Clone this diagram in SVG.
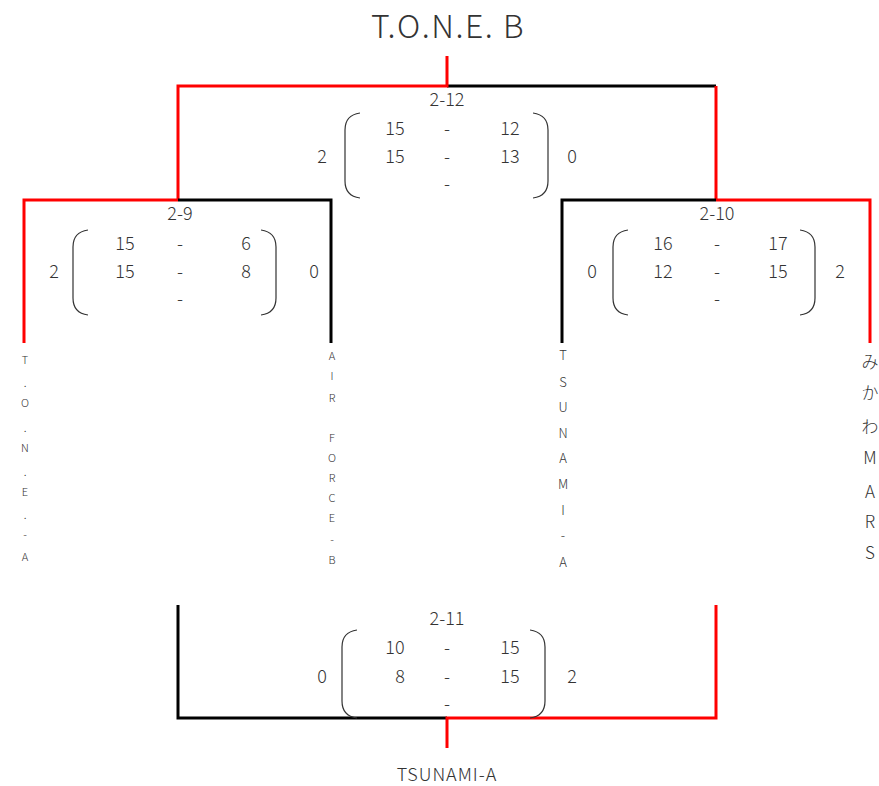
<svg xmlns="http://www.w3.org/2000/svg" width="879" height="786" viewBox="0 0 879 786">
<style>
text{font-family:"Noto Sans CJK JP","Noto Sans",sans-serif;font-weight:300;fill:#333;text-anchor:middle}
.t{font-size:32px;letter-spacing:1.5px}
.s{font-size:18px}
.w{letter-spacing:1px}
.v{font-size:11px}
.v2{font-size:13px}
.v3{font-size:17px}
.r{stroke:#ff0000;stroke-width:3;fill:none}
.k{stroke:#000;stroke-width:3;fill:none}
.p{stroke:#333;stroke-width:1.2;fill:none}
</style>
<rect width="879" height="786" fill="#fff"/>
<g id="connectors">
<path class="k" d="M447 86 H716"/>
<path class="r" d="M447 56 V86 H178 V200"/>
<path class="r" d="M716 86 V200"/>
<path class="k" d="M178 200 H331 V343"/>
<path class="r" d="M178 200 H24 V343"/>
<path class="k" d="M716 200 H562 V343"/>
<path class="r" d="M716 200 H870 V343"/>
<path class="k" d="M178 605 V718 H447"/>
<path class="r" d="M716 605 V718 H447 V748"/>
</g>
<g id="title"><text class="t" x="448" y="38">T.O.N.E. B</text></g>
<g id="match-2-12">
<text class="s" x="447" y="106">2-12</text>
<path class="p" d="M360 113 Q345 115 345 130 V181 Q345 196 360 198"/>
<path class="p" d="M533 113 Q548 115 548 130 V181 Q548 196 533 198"/>
<text class="s" x="395" y="135">15</text><text class="s" x="447" y="135">-</text><text class="s" x="510" y="135">12</text>
<text class="s" x="395" y="163">15</text><text class="s" x="447" y="163">-</text><text class="s" x="510" y="163">13</text>
<text class="s" x="447" y="190">-</text>
<text class="s" x="322" y="163">2</text><text class="s" x="572" y="163">0</text>
</g>
<g id="match-2-9">
<text class="s" x="180" y="220">2-9</text>
<path class="p" d="M88 230 Q73 232 73 247 V298 Q73 313 88 315"/>
<path class="p" d="M261 230 Q276 232 276 247 V298 Q276 313 261 315"/>
<text class="s" x="125" y="250">15</text><text class="s" x="180" y="250">-</text><text class="s" x="246" y="250">6</text>
<text class="s" x="125" y="278">15</text><text class="s" x="180" y="278">-</text><text class="s" x="246" y="278">8</text>
<text class="s" x="180" y="305">-</text>
<text class="s" x="54" y="278">2</text><text class="s" x="314" y="278">0</text>
</g>
<g id="match-2-10">
<text class="s" x="717" y="220">2-10</text>
<path class="p" d="M628 230 Q613 232 613 247 V298 Q613 313 628 315"/>
<path class="p" d="M800 230 Q815 232 815 247 V298 Q815 313 800 315"/>
<text class="s" x="663" y="250">16</text><text class="s" x="717" y="250">-</text><text class="s" x="778" y="250">17</text>
<text class="s" x="663" y="278">12</text><text class="s" x="717" y="278">-</text><text class="s" x="778" y="278">15</text>
<text class="s" x="717" y="305">-</text>
<text class="s" x="592" y="278">0</text><text class="s" x="840" y="278">2</text>
</g>
<g id="match-2-11">
<text class="s" x="447" y="625">2-11</text>
<path class="p" d="M357 630 Q342 632 342 647 V701 Q342 716 357 718"/>
<path class="p" d="M530 630 Q545 632 545 647 V701 Q545 716 530 718"/>
<text class="s" x="395" y="654">10</text><text class="s" x="447" y="654">-</text><text class="s" x="510" y="654">15</text>
<text class="s" x="400" y="683">8</text><text class="s" x="447" y="683">-</text><text class="s" x="510" y="683">15</text>
<text class="s" x="447" y="710">-</text>
<text class="s" x="322" y="683">0</text><text class="s" x="572" y="683">2</text>
</g>
<g id="winner"><text class="s w" x="447" y="781">TSUNAMI-A</text></g>
<g id="team-tone-a">
<text class="v" x="25"><tspan x="25" y="364">T</tspan><tspan x="25" y="387">.</tspan><tspan x="25" y="407">O</tspan><tspan x="25" y="432">.</tspan><tspan x="25" y="452">N</tspan><tspan x="25" y="476">.</tspan><tspan x="25" y="496">E</tspan><tspan x="25" y="519">.</tspan><tspan x="25" y="539">-</tspan><tspan x="25" y="561">A</tspan></text>
</g>
<g id="team-airforce-b">
<text class="v" x="332"><tspan x="332" y="360">A</tspan><tspan x="332" y="380">I</tspan><tspan x="332" y="402">R</tspan><tspan x="332" y="442">F</tspan><tspan x="332" y="462">O</tspan><tspan x="332" y="482">R</tspan><tspan x="332" y="502">C</tspan><tspan x="332" y="522">E</tspan><tspan x="332" y="544">-</tspan><tspan x="332" y="564">B</tspan></text>
</g>
<g id="team-tsunami-a">
<text class="v2" x="563"><tspan x="563" y="360">T</tspan><tspan x="563" y="387">S</tspan><tspan x="563" y="412">U</tspan><tspan x="563" y="438">N</tspan><tspan x="563" y="463">A</tspan><tspan x="563" y="489">M</tspan><tspan x="563" y="515">I</tspan><tspan x="563" y="540">-</tspan><tspan x="563" y="567">A</tspan></text>
</g>
<g id="team-mikawa-mars">
<text class="v3" x="870"><tspan x="870" y="368">み</tspan><tspan x="870" y="399">か</tspan><tspan x="870" y="433">わ</tspan><tspan x="870" y="464">M</tspan><tspan x="870" y="498">A</tspan><tspan x="870" y="528">R</tspan><tspan x="870" y="559">S</tspan></text>
</g>
</svg>
